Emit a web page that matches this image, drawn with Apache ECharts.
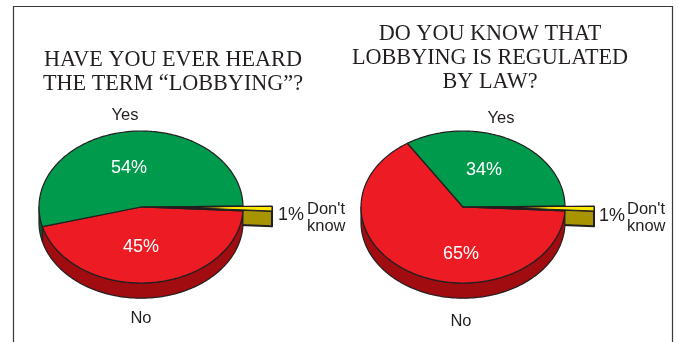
<!DOCTYPE html>
<html>
<head>
<meta charset="utf-8">
<style>html,body{margin:0;padding:0;background:#fff}#chart{width:679px;height:342px}</style>
<script src="https://cdn.jsdelivr.net/npm/echarts@6/dist/echarts.min.js"></script>
</head>
<body>
<div id="chart"></div>
<script>
// Survey answers, drawn clockwise from the right-hand edge of each pie.
const categories = ["Don't know", 'No', 'Yes'];
const heardOfLobbying = [1, 45, 54];
const knowsRegulated = [1, 65, 34];
const titleHeard = 'HAVE YOU EVER HEARD\nTHE TERM “LOBBYING”?';
const titleRegulated = 'DO YOU KNOW THAT\nLOBBYING IS REGULATED\nBY LAW?';

// Presentation settings
const INK = '#231f20';
const TOP_COLORS = { 'Yes': '#009a4c', 'No': '#ed1c24', "Don't know": '#ffe900' };
const SIDE_COLORS = { 'Yes': '#0b5a2c', 'No': '#a00c10', "Don't know": '#a89400' };
const START_DEG = -0.6;
const DEPTH = 0.2;      // rim height, in vertical axis units
const EXPLODE = 0.285;  // outward shift of the pulled slice, in horizontal axis units
const SANS = '"Liberation Sans", Arial, sans-serif';
const SERIF = '"Liberation Serif", "Times New Roman", serif';

function sliceAngles(values) {
  const total = values.reduce((a, b) => a + b, 0);
  let at = START_DEG;
  return values.map(v => {
    const from = at;
    at += v / total * 360;
    return [from, at];
  });
}

function rimPoint(deg) {
  const t = deg * Math.PI / 180;
  return [Math.cos(t), Math.sin(t)];
}

function arc(from, to) {
  const pts = [];
  const n = Math.max(2, Math.ceil(Math.abs(to - from)));
  for (let i = 0; i <= n; i++) pts.push(rimPoint(from + (to - from) * i / n));
  return pts;
}

function polygon(points, api, dx, dy, fill, z2, width) {
  return {
    type: 'polygon',
    z2: z2,
    shape: { points: points.map(p => api.coord([p[0] + dx, p[1] + dy])) },
    style: { fill: fill, stroke: INK, lineWidth: width || 1.2, lineJoin: 'round' }
  };
}

// Rim of the pie: the lower half of the ellipse pushed down by DEPTH,
// and for the pulled slice its cut face as well.
function wallItem(angles) {
  return function (params, api) {
    const name = categories[params.dataIndex];
    const [a0, a1] = angles[params.dataIndex];
    const pulled = name === "Don't know";
    const dx = pulled ? EXPLODE : 0;
    const width = pulled ? 1.9 : 1.2;
    const from = Math.max(a0, 0), to = Math.min(a1, 180);
    const fill = SIDE_COLORS[name];
    const children = [];
    if (to > from) {
      const top = arc(from, to);
      const band = top.concat(top.slice().reverse().map(p => [p[0], p[1] + DEPTH]));
      children.push(polygon(band, api, dx, 0, fill, 1, width));
    }
    if (pulled) {
      const end = rimPoint(a1);
      children.push(polygon([[0, 0], end, [end[0], end[1] + DEPTH], [0, DEPTH]], api, dx, 0, fill, 1, width));
    }
    return { type: 'group', children: children };
  };
}

// Upper face of each slice, with the pulled slice lying over the others.
function faceItem(angles) {
  return function (params, api) {
    const name = categories[params.dataIndex];
    const [a0, a1] = angles[params.dataIndex];
    const pulled = name === "Don't know";
    const wedge = [[0, 0]].concat(arc(a0, a1));
    const children = [];
    if (pulled) {
      children.push(polygon(wedge, api, 0, 0, INK, 3));
      children.push(polygon(wedge, api, EXPLODE, 0, {
        type: 'linear', x: 0, y: 0, x2: 1, y2: 0,
        colorStops: [
          { offset: 0, color: INK },
          { offset: 0.3, color: INK },
          { offset: 0.55, color: TOP_COLORS[name] },
          { offset: 1, color: TOP_COLORS[name] }
        ]
      }, 4));
    } else {
      children.push(polygon(wedge, api, 0, 0, TOP_COLORS[name], 2));
    }
    return { type: 'group', children: children };
  };
}

function pieSeries(axisIndex, values) {
  const angles = sliceAngles(values);
  const rows = values.map(v => [0, 0, v]);
  const base = {
    type: 'custom', coordinateSystem: 'cartesian2d', clip: false, silent: true,
    xAxisIndex: axisIndex, yAxisIndex: axisIndex, data: rows, animation: false
  };
  return [
    Object.assign({}, base, { renderItem: wallItem(angles), z: 2 }),
    Object.assign({}, base, { renderItem: faceItem(angles), z: 3 })
  ];
}

function unitAxis(inverse, gridIndex) {
  return { type: 'value', min: -1, max: 1, show: false, inverse: inverse, gridIndex: gridIndex };
}

function text(x, y, str, color, size) {
  return {
    type: 'text', x: x, y: y, z: 20, silent: true,
    style: {
      text: str, fill: color || INK, font: (size || 16.5) + 'px ' + SANS,
      align: 'center', verticalAlign: 'middle'
    }
  };
}

function wordLabel(x, y, str) {
  const el = text(x, y, str, INK, 16.5);
  el.style.lineHeight = 17;
  el.style.align = 'left';
  return el;
}

const chart = echarts.init(document.getElementById('chart'), null, { renderer: 'canvas' });
chart.setOption({
  animation: false,
  backgroundColor: '#ffffff',
  title: [
    {
      text: titleHeard, left: 168, top: 43, textAlign: 'center',
      textStyle: { fontFamily: SERIF, fontWeight: 'normal', fontSize: 22.2, lineHeight: 24, color: INK }
    },
    {
      text: titleRegulated, left: 485, top: 17, textAlign: 'center',
      textStyle: { fontFamily: SERIF, fontWeight: 'normal', fontSize: 22.2, lineHeight: 24, color: INK }
    }
  ],
  grid: [
    { left: 39, top: 131, width: 204, height: 152 },
    { left: 361, top: 131, width: 204, height: 152 }
  ],
  xAxis: [unitAxis(false, 0), unitAxis(false, 1)],
  yAxis: [unitAxis(true, 0), unitAxis(true, 1)],
  series: pieSeries(0, heardOfLobbying).concat(pieSeries(1, knowsRegulated)),
  graphic: [
    {
      type: 'polyline', z: 1, silent: true,
      shape: { points: [[13.5, 342], [13.5, 6.5], [672.5, 6.5], [672.5, 342]] },
      style: { stroke: '#3a3a3a', lineWidth: 1.2, fill: null }
    },
    text(125, 115, 'Yes'),
    text(129, 168, heardOfLobbying[2] + '%', '#ffffff', 18),
    text(141, 247, heardOfLobbying[1] + '%', '#ffffff', 18),
    text(141, 318, 'No'),
    text(291, 215, heardOfLobbying[0] + '%', INK, 18),
    wordLabel(307, 218, "Don't\nknow"),
    text(501, 118, 'Yes'),
    text(484, 170, knowsRegulated[2] + '%', '#ffffff', 18),
    text(461, 254, knowsRegulated[1] + '%', '#ffffff', 18),
    text(461, 321, 'No'),
    text(612, 216, knowsRegulated[0] + '%', INK, 18),
    wordLabel(627, 218, "Don't\nknow")
  ]
});
</script>
</body>
</html>
